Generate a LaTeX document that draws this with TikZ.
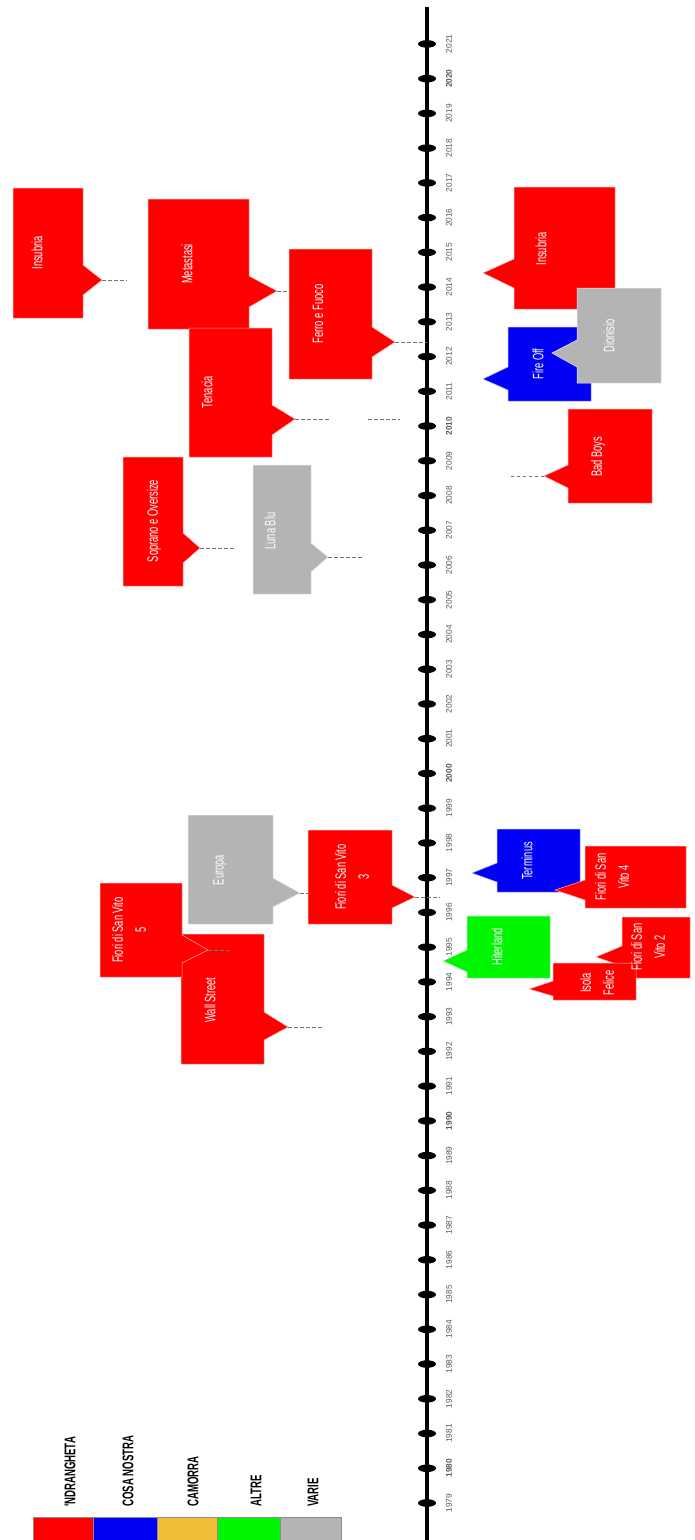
\documentclass[tikz,border=0pt]{standalone}
\usepackage{fontspec}
\setmainfont{Liberation Sans}
\newfontfamily\narrowfont{Liberation Sans}[FakeStretch=0.62]
\definecolor{ndr}{RGB}{255,0,0}
\definecolor{cosa}{RGB}{0,0,245}
\definecolor{camo}{RGB}{240,190,55}
\definecolor{altre}{RGB}{0,245,0}
\definecolor{varie}{RGB}{180,180,180}
\tikzset{callbox/.style={fill=#1, draw=white!70!#1, line width=0.5pt},
         boxtxt/.style={white, rotate=90, align=center, inner sep=0pt, font=\narrowfont\fontsize{15}{23}\selectfont},
         lead/.style={black!55, dash pattern=on 3.5pt off 2.5pt, line width=0.6pt},
         yearlbl/.style={black!65, rotate=90, inner sep=0pt, font=\fontsize{8.3}{8.3}\selectfont},
         legbox/.style={fill=#1, draw=black!45, line width=0.6pt},
         legtxt/.style={rotate=90, anchor=west, inner sep=0pt, font=\narrowfont\bfseries\fontsize{15.5}{16}\selectfont}}

\begin{document}
\begin{tikzpicture}[x=1pt,y=-1pt]
  \useasboundingbox[fill=white] (0,0) rectangle (694,1540);
  \begin{scope}
   \draw[line width=3.8pt] (427,7) -- (427,1540);
   \foreach \yr in {1979,...,2021}{
     \pgfmathsetmacro\yy{1503-(\yr-1979)*34.74}
     \fill[black] (427,\yy) ellipse (9 and 3.8);
     \ifnum\numexpr\yr-\yr/10*10\relax=0
       \node[yearlbl,font=\fontsize{8.3}{8.3}\selectfont\bfseries] (y\yr) at (449,\yy) {\yr};
     \else
       \node[yearlbl] (y\yr) at (449,\yy) {\yr};
     \fi
   }
  \end{scope}
  \begin{scope}
   \path[callbox=ndr  ] ( 13,188) -| ( 83,265) -- (102,280) coordinate (pInsL)  -- ( 83,295) |- ( 13,318) -- cycle;
   \path[callbox=ndr  ] (148,199) -| (249,276) -- (277,291) coordinate (pMet)   -- (249,307) |- (148,329) -- cycle;
   \path[callbox=ndr  ] (189,328) -| (272,405) -- (295,419) coordinate (pTen)   -- (272,435) |- (189,457) -- cycle;
   \path[callbox=ndr  ] (289,249) -| (372,327) -- (395,342) coordinate (pFer)   -- (372,357) |- (289,379) -- cycle;
   \path[callbox=ndr  ] (123,457) -| (183,533) -- (200,548) coordinate (pSop)   -- (183,563) |- (123,586) -- cycle;
   \path[callbox=varie] (253,465) -| (311,543) -- (328,557) coordinate (pLuna)  -- (311,572) |- (253,594) -- cycle;
   \path[callbox=varie] (188,815) -| (273,878) -- (300,893) coordinate (pEur)   -- (273,907) |- (188,924) -- cycle;
   \path[callbox=ndr  ] (308,830) -| (392,885) -- (415,897) coordinate (pFsv3)  -- (392,908) |- (308,924) -- cycle;
   \path[callbox=ndr  ] (181,934) -| (264,1012) -- (288,1027) coordinate (pWall) -- (264,1040) |- (181,1064) -- cycle;
   \path[callbox=ndr  ] (100,883) -| (182,935) -- (208,950) coordinate (pFsv5)  -- (182,963) |- (100,977) -- cycle;
   \draw[lead] (pInsL) -- ++(25,0);
   \draw[lead] (pMet)  -- ++(13,0);
   \draw[lead] (pFer)  -- ++(32,0);
   \draw[lead] (pTen)  -- ++(35,0);
   \draw[lead] ([xshift=73pt]pTen) -- ++(32,0);
   \draw[lead] (pSop)  -- ++(35,0);
   \draw[lead] (pLuna) -- ++(35,0);
   \draw[lead] (pEur)  -- ++(8,0);
   \draw[lead] (pFsv3) -- ++(25,0);
   \draw[lead] (pWall) -- ++(34,0);
   \draw[lead] (pFsv5) -- ++(22,0);
   \node[boxtxt] (insubriaL) at ( 37,253) {Insubria};
   \node[boxtxt] (metastasi) at (187,264) {Metastasi};
   \node[boxtxt] (ferro)     at (318,314) {Ferro e Fuoco};
   \node[boxtxt] (tenacia)   at (207,392) {Tenacia};
   \node[boxtxt] (soprano)   at (154,521) {Soprano e Oversize};
   \node[boxtxt] (lunablu)   at (270,531) {Luna Blu};
   \node[boxtxt] (europa)    at (220,870) {Europa};
   \node[boxtxt] (fsvTre)    at (352,877) {Fiori di San Vito\\3};
   \node[boxtxt] (fsvCinque) at (129,930) {Fiori di San Vito\\5};
   \node[boxtxt] (wallst)    at (210,1000) {Wall Street};
  \end{scope}
  \begin{scope}
   \path[callbox=ndr  ] (615,187) -| (514,259) -- (483,273) coordinate (pInsR)  -- (514,288) |- (615,309) -- cycle;
   \path[callbox=cosa ] (591,327) -| (508,367) -- (483,379) coordinate (pFire)  -- (508,390) |- (591,401) -- cycle;
   \path[callbox=varie] (661,288) -| (577,340) -- (552,353) coordinate (pDio)   -- (577,367) |- (661,383) -- cycle;
   \path[callbox=ndr  ] (652,409) -| (568,465) -- (544,476) coordinate (pBad)   -- (568,488) |- (652,503) -- cycle;
   \path[callbox=cosa ] (580,829) -| (497,863) -- (472,873) coordinate (pTerm)  -- (497,882) |- (580,892) -- cycle;
   \path[callbox=ndr  ] (686,846) -| (585,880) -- (555,890) coordinate (pFsv4)  -- (585,900) |- (686,908) -- cycle;
   \path[callbox=altre] (550,916) -| (467,950) -- (443,961) coordinate (pHit)   -- (467,972) |- (550,978) -- cycle;
   \path[callbox=ndr  ] (690,917) -| (622,946) -- (596,957) coordinate (pFsv2)  -- (622,966) |- (690,978) -- cycle;
   \path[callbox=ndr  ] (636,963) -| (553,981) -- (529,989) coordinate (pIsola) -- (553,996) |- (636,1000) -- cycle;
   \draw[lead] (pBad) -- ++(-36,0);
   \node[boxtxt] (insubriaR) at (541,249) {Insubria};
   \node[boxtxt] (fireoff)   at (538,364) {Fire Off};
   \node[boxtxt] (dionisio)  at (609,336) {Dionisio};
   \node[boxtxt] (badboys)   at (598,457) {Bad Boys};
   \node[boxtxt] (terminus)  at (527,861) {Terminus};
   \node[boxtxt] (fsvQuattro) at (612,877) {Fiori di San\\Vito 4};
   \node[boxtxt] (hiterland) at (497,947) {Hiterland};
   \node[boxtxt] (fsvDue)    at (648,947) {Fiori di San\\Vito 2};
   \node[boxtxt] (isola)     at (597,983) {Isola\\Felice};
  \end{scope}
  \begin{scope}
   \path[legbox=ndr  ] ( 33,1517) rectangle ( 93,1545);
   \path[legbox=cosa ] ( 93,1517) rectangle (157,1545);
   \path[legbox=camo ] (157,1517) rectangle (217,1545);
   \path[legbox=altre] (217,1517) rectangle (280,1545);
   \path[legbox=varie] (280,1517) rectangle (341,1545);
   \node[legtxt] (legNdr)   at ( 70,1507) {'NDRANGHETA};
   \node[legtxt] (legCosa)  at (128,1507) {COSA NOSTRA};
   \node[legtxt] (legCamo)  at (193,1507) {CAMORRA};
   \node[legtxt] (legAltre) at (256,1507) {ALTRE};
   \node[legtxt] (legVarie) at (313,1507) {VARIE};
  \end{scope}
\end{tikzpicture}
\end{document}
